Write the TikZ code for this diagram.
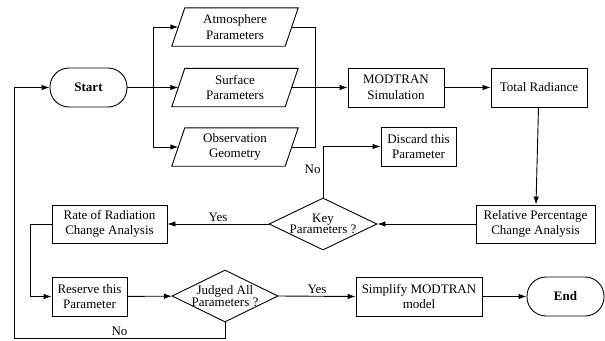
\documentclass[tikz,border=0pt]{standalone}
\usepackage{fontspec}
\setmainfont{Liberation Serif}
\usetikzlibrary{arrows.meta,shapes.geometric}
\begin{document}
\begin{tikzpicture}[x=1pt,y=-1pt,
  every node/.style={font=\fontsize{13}{15.5}\selectfont},
  line/.style={line width=0.9pt},
  arr/.style={line, -{Latex[length=8pt,width=5.5pt]}},
  box/.style={draw, line width=0.9pt, rectangle, align=center, inner sep=0pt},
  term/.style={draw, line width=0.9pt, rectangle, rounded corners=19pt, minimum width=77pt, minimum height=39pt, font=\fontsize{13}{15.5}\selectfont\bfseries, inner sep=0pt},
  para/.style={rectangle, align=center, minimum width=113pt, minimum height=38pt, inner sep=0pt},
  dia/.style={draw, line width=0.9pt, diamond, aspect=2.05, inner sep=-14pt, align=center, font=\fontsize{13}{11.5}\selectfont},
  lab/.style={font=\fontsize{13}{15.5}\selectfont, inner sep=2pt}
]
\useasboundingbox (0,0) rectangle (605,340);

% nodes
\node[term] (start) at (88.5,87.5) {Start};
\node[para] (atm) at (235,27) {Atmosphere\\Parameters};
\node[para] (surf) at (235,87.5) {Surface\\Parameters};
\node[para] (obs) at (235,147) {Observation\\Geometry};
\foreach \n in {atm,surf,obs}{
  \draw[line] ([xshift=-6.5pt]\n.south west) -- ([xshift=-6.5pt]\n.south east)
     -- ([xshift=6.5pt]\n.north east) -- ([xshift=6.5pt]\n.north west) -- cycle;
}
\node[box, minimum width=96pt, minimum height=39pt] (mod) at (396,87.5) {MODTRAN\\Simulation};
\node[box, minimum width=96pt, minimum height=39pt] (tot) at (539,87.5) {Total Radiance};
\node[box, minimum width=119pt, minimum height=38pt] (rel) at (535.5,224) {Relative Percentage\\Change Analysis};
\node[dia, minimum width=108pt, minimum height=52pt] (key) at (323,224) {Key\\Parameters ?};
\node[box, minimum width=75pt, minimum height=39pt] (disc) at (418.5,146.5) {Discard this\\Parameter};
\node[box, minimum width=115pt, minimum height=38pt] (rate) at (109.5,224) {Rate of Radiation\\Change Analysis};
\node[box, minimum width=75pt, minimum height=39pt] (res) at (89.5,296.5) {Reserve this\\Parameter};
\node[dia, minimum width=106pt, minimum height=52pt] (judg) at (225,296) {Judged All\\Parameters ?};
\node[box, minimum width=126pt, minimum height=39pt] (simp) at (419,296.5) {Simplify MODTRAN\\model};
\node[term] (end) at (565.5,296.5) {End};

% junction coordinates
\coordinate (j1) at (153,87.5);
\coordinate (j2) at (315,87.5);
\coordinate (r1) at (30,224);
\coordinate (b1) at (225,338);
\coordinate (b2) at (14,338);
\coordinate (b3) at (14,87.5);

% connectors
\draw[line] (start) -- (j1);
\draw[arr] (j1) |- (atm);
\draw[arr] (j1) -- (surf);
\draw[arr] (j1) |- (obs);
\draw[line] (atm) -| (j2);
\draw[line] (obs) -| (j2);
\draw[arr] (surf) -- (mod);
\draw[arr] (mod) -- (tot);
\draw[arr] (tot) -- (rel);
\draw[arr] (rel) -- (key);
\draw[arr] (key.north) |- node[lab, pos=0.28, left] {No} (disc.west);
\draw[arr] (key.west) -- node[lab, midway, above] {Yes} (rate.east);
\draw[arr] (rate.west) -- (r1) |- (res.west);
\draw[arr] (res) -- (judg);
\draw[arr] (judg.east) -- node[lab, midway, above] {Yes} (simp.west);
\draw[arr] (simp) -- (end);
\draw[arr] (judg.south) -- (b1) -- node[lab, midway, above] {No} (b2) -- (b3) -- (start.west);
\end{tikzpicture}
\end{document}
